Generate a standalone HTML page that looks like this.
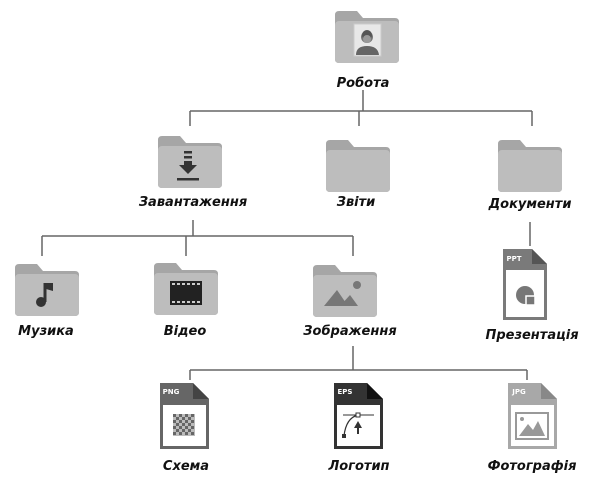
<!DOCTYPE html>
<html><head><meta charset="utf-8"><style>
html,body{margin:0;padding:0;background:#fff;}
svg{display:block;}
text{font-family:"DejaVu Sans","Liberation Sans",sans-serif;font-style:oblique;font-weight:bold;font-size:13px;fill:#111;text-anchor:middle;}
</style></head><body>
<svg width="600" height="489" viewBox="0 0 600 489" xmlns="http://www.w3.org/2000/svg">
<defs>
<g id="folder">
<path d="M0 4 Q0 0 4 0 H22 L28 7 H60 Q64 7 64 11 V48 Q64 52 60 52 H4 Q0 52 0 48 Z" fill="#a6a6a6"/>
<rect x="0" y="10" width="64" height="42" rx="4" fill="#bdbdbd"/>
</g>
</defs>
<g stroke="#666" stroke-width="1.5" fill="none">
<path d="M363 90 V111 M190 111 H532 M190 111 V126 M359 111 V126 M532 111 V126"/>
<path d="M193 220 V236 M42 236 H353 M42 236 V256 M186 236 V256 M353 236 V256"/>
<path d="M530 222 V246"/>
<path d="M353 346 V370 M190 370 H527 M190 370 V380 M527 370 V380"/>
</g>
<!-- Робота -->
<use href="#folder" x="335" y="11"/>
<rect x="354" y="24" width="27" height="32" fill="#e8e8e8" stroke="#ccc"/>
<circle cx="367" cy="37" r="6" fill="#777"/>
<path d="M356 55 Q356 46 367 46 Q378 46 379 55 Z" fill="#666"/>
<circle cx="367" cy="35" r="5" fill="#555"/>
<circle cx="367" cy="39" r="4" fill="#999"/>
<text x="363" y="87">Робота</text>
<!-- row 2 -->
<use href="#folder" x="158" y="136"/>
<rect x="184" y="151" width="8" height="2.5" fill="#333"/>
<rect x="184" y="156" width="8" height="2.5" fill="#333"/>
<rect x="184" y="161" width="8" height="5" fill="#333"/>
<path d="M179 165 H197 L188 174 Z" fill="#333"/>
<rect x="177" y="178" width="22" height="2.5" fill="#333"/>
<text x="193" y="206">Завантаження</text>
<use href="#folder" x="326" y="140"/>
<text x="356" y="206">Звіти</text>
<use href="#folder" x="498" y="140"/>
<text x="530" y="208">Документи</text>
<!-- row 3 -->
<use href="#folder" x="15" y="264"/>
<path d="M45 283 V302" stroke="#333" stroke-width="3"/>
<path d="M45 283 H53 V291 L46 289 Z" fill="#333"/>
<circle cx="41" cy="302" r="5" fill="#333"/>
<text x="46" y="335">Музика</text>
<use href="#folder" x="154" y="263"/>
<rect x="170" y="281" width="32" height="24" fill="#222"/>
<g fill="#ccc"><rect x="172" y="283" width="3" height="2"/><rect x="177" y="283" width="3" height="2"/><rect x="182" y="283" width="3" height="2"/><rect x="187" y="283" width="3" height="2"/><rect x="192" y="283" width="3" height="2"/><rect x="197" y="283" width="3" height="2"/>
<rect x="172" y="301" width="3" height="2"/><rect x="177" y="301" width="3" height="2"/><rect x="182" y="301" width="3" height="2"/><rect x="187" y="301" width="3" height="2"/><rect x="192" y="301" width="3" height="2"/><rect x="197" y="301" width="3" height="2"/></g>
<text x="185" y="335">Відео</text>
<use href="#folder" x="313" y="265"/>
<path d="M324 306 L337 290 L348 306 Z" fill="#777"/>
<path d="M340 306 L350 295 L358 306 Z" fill="#777"/>
<circle cx="357" cy="285" r="4" fill="#777"/>
<text x="350" y="335">Зображення</text>
<!-- PPT -->
<path d="M503 249 H532 L547 264 V320 H503 Z" fill="#7a7a7a"/>
<path d="M532 249 L547 264 H532 Z" fill="#555"/>
<rect x="506" y="270" width="38" height="47" fill="#fff"/>
<text x="514" y="261" style="font-size:7px;font-style:normal;fill:#fff">PPT</text>
<circle cx="525" cy="295" r="9" fill="#777"/>
<path d="M526 296 H535 V305 H526 Z" fill="#777" stroke="#fff" stroke-width="1.5"/>
<text x="532" y="339">Презентація</text>
<!-- PNG -->
<path d="M160 383 H193 L209 399 V449 H160 Z" fill="#666"/>
<path d="M193 383 L209 399 H193 Z" fill="#444"/>
<rect x="163" y="405" width="43" height="41" fill="#fff"/>
<text x="171" y="394" style="font-size:7px;font-style:normal;fill:#fff">PNG</text>
<g fill="#666">
<rect x="173" y="414" width="22" height="22" fill="#bbb"/>
<rect x="173" y="414" width="3" height="3"/><rect x="179" y="414" width="3" height="3"/><rect x="185" y="414" width="3" height="3"/><rect x="191" y="414" width="3" height="3"/>
<rect x="176" y="417" width="3" height="3"/><rect x="182" y="417" width="3" height="3"/><rect x="188" y="417" width="3" height="3"/>
<rect x="173" y="420" width="3" height="3"/><rect x="179" y="420" width="3" height="3"/><rect x="185" y="420" width="3" height="3"/><rect x="191" y="420" width="3" height="3"/>
<rect x="176" y="423" width="3" height="3"/><rect x="182" y="423" width="3" height="3"/><rect x="188" y="423" width="3" height="3"/>
<rect x="173" y="426" width="3" height="3"/><rect x="179" y="426" width="3" height="3"/><rect x="185" y="426" width="3" height="3"/><rect x="191" y="426" width="3" height="3"/>
<rect x="176" y="429" width="3" height="3"/><rect x="182" y="429" width="3" height="3"/><rect x="188" y="429" width="3" height="3"/>
<rect x="173" y="432" width="3" height="3"/><rect x="179" y="432" width="3" height="3"/><rect x="185" y="432" width="3" height="3"/><rect x="191" y="432" width="3" height="3"/>
</g>
<text x="186" y="470">Схема</text>
<!-- EPS -->
<path d="M334 383 H367 L383 399 V449 H334 Z" fill="#333"/>
<path d="M367 383 L383 399 H367 Z" fill="#111"/>
<rect x="337" y="405" width="43" height="41" fill="#fff"/>
<text x="345" y="394" style="font-size:7px;font-style:normal;fill:#fff">EPS</text>
<path d="M343 415 H374" stroke="#333" stroke-width="1"/>
<path d="M358 415 Q346 418 344 436" stroke="#333" stroke-width="1.2" fill="none"/>
<rect x="356" y="413" width="4" height="4" fill="#fff" stroke="#333"/>
<rect x="342" y="434" width="4" height="4" fill="#333"/>
<path d="M358 421 L354 428 H357 V434 H359 V428 H362 Z" fill="#333"/>
<text x="359" y="470">Логотип</text>
<!-- JPG -->
<path d="M508 383 H541 L557 399 V449 H508 Z" fill="#a8a8a8"/>
<path d="M541 383 L557 399 H541 Z" fill="#888"/>
<rect x="511" y="405" width="43" height="41" fill="#fff"/>
<text x="519" y="394" style="font-size:7px;font-style:normal;fill:#fff">JPG</text>
<rect x="516" y="413" width="32" height="26" fill="none" stroke="#999" stroke-width="2"/>
<path d="M519 436 L528 424 L533 430 L538 421 L545 436 Z" fill="#999"/>
<circle cx="522" cy="419" r="2" fill="#999"/>
<text x="532" y="470">Фотографія</text>
</svg>
</body></html>
